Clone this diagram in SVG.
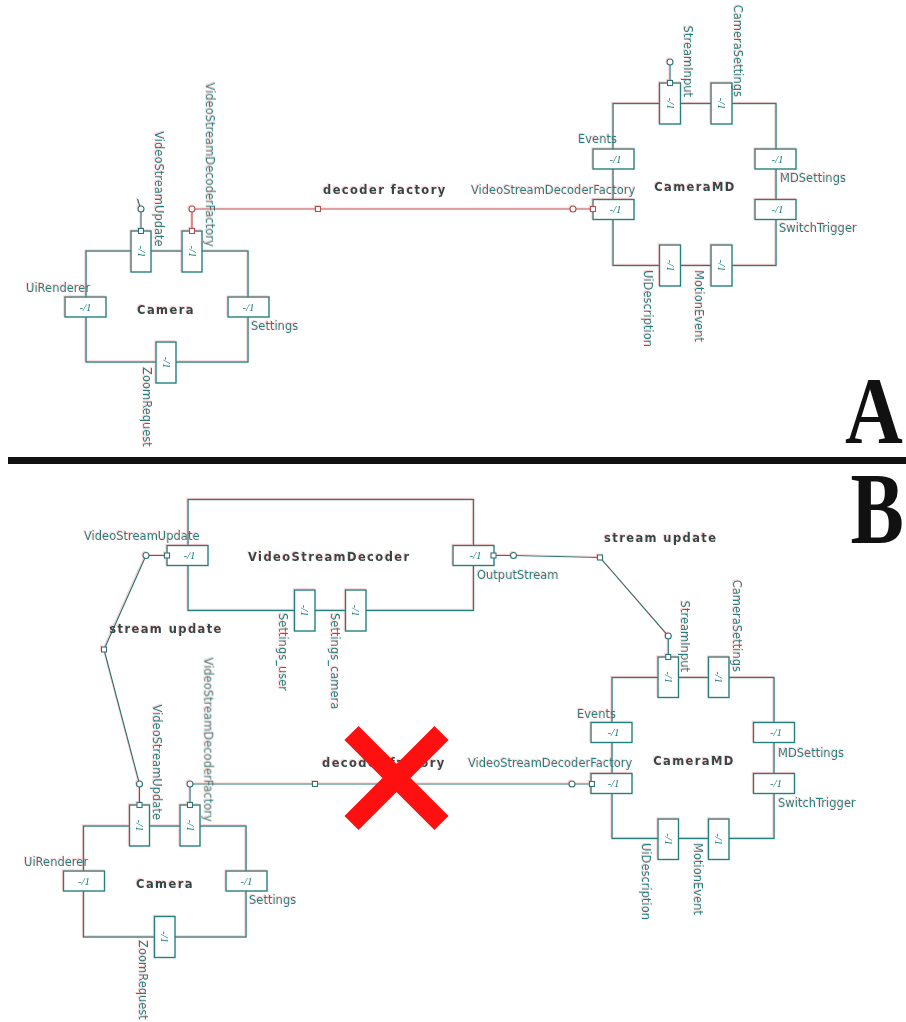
<svg xmlns="http://www.w3.org/2000/svg" width="906" height="1022" viewBox="0 0 906 1022">
<defs>
<style>
.box{fill:none;stroke:#21807f;stroke-width:1.4}
.port{fill:#fff;stroke:#21807f;stroke-width:1.4}
.lbl{font-family:"DejaVu Sans",sans-serif;font-size:11.5px;fill:#21807f}
.end{text-anchor:end}
.title{font-family:"DejaVu Sans",sans-serif;font-size:11.5px;font-weight:bold;letter-spacing:1.4px;fill:#2e4848}
.mid{text-anchor:middle}
.mult{font-family:"Liberation Serif",serif;font-style:italic;font-size:11px;fill:#21807f;text-anchor:middle}
.conn{fill:none;stroke:#2a7474;stroke-width:1.2}
.connA{fill:none;stroke:#c04a4a;stroke-width:1.2}
.mk{fill:#fff;stroke:#2a7474;stroke-width:1.1}
.mkA{fill:#fff;stroke:#b05050;stroke-width:1.1}
.big{font-family:"Liberation Serif",serif;font-weight:bold;font-size:80px;fill:#111}
</style>
<filter id="fr" filterUnits="userSpaceOnUse" x="0" y="0" width="906" height="1022">
<feColorMatrix in="SourceAlpha" type="matrix" values="0 0 0 0 0.92  0 0 0 0 0.35  0 0 0 0 0.35  0 0 0 0.5 0" result="r"/>
<feOffset in="r" dx="-1" dy="-0.7" result="ro"/>
<feMerge><feMergeNode in="ro"/><feMergeNode in="SourceGraphic"/></feMerge>
</filter>
</defs>
<rect width="906" height="1022" fill="#fff"/>
<g filter="url(#fr)">
<!-- ===== Section A ===== -->
<g id="cameraA">
<rect class="box" x="86" y="251" width="162" height="111"/>
<rect class="port" x="131" y="231" width="20" height="41"/>
<rect class="port" x="182" y="231" width="20" height="41"/>
<rect class="port" x="65" y="297" width="41" height="20"/>
<rect class="port" x="228" y="297" width="41" height="20"/>
<rect class="port" x="156" y="342" width="20" height="41"/>
<text class="mult" transform="translate(137.5,251.5) rotate(90)">-/1</text>
<text class="mult" transform="translate(188.5,251.5) rotate(90)">-/1</text>
<text class="mult" x="85.5" y="310.5">-/1</text>
<text class="mult" x="248.5" y="310.5">-/1</text>
<text class="mult" transform="translate(162.5,362.5) rotate(90)">-/1</text>
<text class="title mid" x="166" y="313.5">Camera</text>
<text class="lbl" x="26" y="292">UiRenderer</text>
<text class="lbl" x="251" y="330">Settings</text>
<text class="lbl" transform="translate(142.7,367) rotate(90)">ZoomRequest</text>
<text class="lbl end" transform="translate(155.3,246.7) rotate(90)">VideoStreamUpdate</text>
<text class="lbl end" transform="translate(206,246.7) rotate(90)">VideoStreamDecoderFactory</text>
</g>
<g id="cameraMDA">
<rect class="box" x="613" y="103.5" width="163" height="162"/>
<rect class="port" x="659.5" y="83" width="21" height="41"/>
<rect class="port" x="711" y="83" width="21" height="41"/>
<rect class="port" x="593" y="149" width="41" height="20"/>
<rect class="port" x="593" y="199.5" width="41" height="20"/>
<rect class="port" x="755" y="149" width="41" height="20"/>
<rect class="port" x="755" y="199.5" width="41" height="20"/>
<rect class="port" x="659.5" y="245" width="21" height="41"/>
<rect class="port" x="711" y="245" width="21" height="41"/>
<text class="mult" transform="translate(666.5,103.5) rotate(90)">-/1</text>
<text class="mult" transform="translate(718,103.5) rotate(90)">-/1</text>
<text class="mult" x="615.5" y="162.5">-/1</text>
<text class="mult" x="615.5" y="213">-/1</text>
<text class="mult" x="777.5" y="162.5">-/1</text>
<text class="mult" x="777.5" y="213">-/1</text>
<text class="mult" transform="translate(666.5,265.5) rotate(90)">-/1</text>
<text class="mult" transform="translate(718,265.5) rotate(90)">-/1</text>
<text class="title mid" x="695" y="190.5">CameraMD</text>
<text class="lbl" x="578" y="143">Events</text>
<text class="lbl" x="780" y="182">MDSettings</text>
<text class="lbl" x="779" y="232">SwitchTrigger</text>
<text class="lbl" x="471" y="194">VideoStreamDecoderFactory</text>
<text class="lbl end" transform="translate(683.7,97) rotate(90)">StreamInput</text>
<text class="lbl end" transform="translate(734.3,97) rotate(90)">CameraSettings</text>
<text class="lbl" transform="translate(644.3,270) rotate(90)">UiDescription</text>
<text class="lbl" transform="translate(695.3,270) rotate(90)">MotionEvent</text>
</g>
<!-- ===== Section B ===== -->
<g id="videoStreamDecoderB">
<rect class="box" x="188" y="499.5" width="285.5" height="111"/>
<rect class="port" x="167" y="545.5" width="41" height="20"/>
<rect class="port" x="453" y="545.5" width="41" height="20"/>
<rect class="port" x="294.5" y="590" width="20.5" height="41"/>
<rect class="port" x="345.5" y="590" width="20.5" height="41"/>
<text class="mult" x="189.5" y="559">-/1</text>
<text class="mult" x="475.5" y="559">-/1</text>
<text class="mult" transform="translate(301.3,610.5) rotate(90)">-/1</text>
<text class="mult" transform="translate(352.3,610.5) rotate(90)">-/1</text>
<text class="title" x="248" y="561">VideoStreamDecoder</text>
<text class="lbl" x="84" y="540">VideoStreamUpdate</text>
<text class="lbl" x="477" y="579">OutputStream</text>
<text class="lbl" transform="translate(279.3,613) rotate(90)">Settings_user</text>
<text class="lbl" transform="translate(331,613) rotate(90)">Settings_camera</text>
</g>
<g id="cameraB">
<rect class="box" x="83.5" y="826" width="162.5" height="111"/>
<rect class="port" x="129.5" y="805" width="20" height="41"/>
<rect class="port" x="180" y="805" width="20" height="41"/>
<rect class="port" x="63.5" y="871" width="41" height="20"/>
<rect class="port" x="226" y="871" width="41" height="20"/>
<rect class="port" x="154.5" y="916.5" width="20.5" height="41"/>
<text class="mult" transform="translate(136,825.5) rotate(90)">-/1</text>
<text class="mult" transform="translate(186.5,825.5) rotate(90)">-/1</text>
<text class="mult" x="84" y="884.5">-/1</text>
<text class="mult" x="246.5" y="884.5">-/1</text>
<text class="mult" transform="translate(161.3,937) rotate(90)">-/1</text>
<text class="title mid" x="165" y="887.5">Camera</text>
<text class="lbl" x="24" y="866">UiRenderer</text>
<text class="lbl" x="249" y="904">Settings</text>
<text class="lbl" transform="translate(139.3,940) rotate(90)">ZoomRequest</text>
<text class="lbl end" transform="translate(153.3,820) rotate(90)">VideoStreamUpdate</text>
<text class="lbl end" transform="translate(204.3,821.7) rotate(90)">VideoStreamDecoderFactory</text>
</g>
<g id="cameraMDB">
<rect class="box" x="612" y="677.5" width="162" height="161"/>
<rect class="port" x="658" y="657" width="20.5" height="40.5"/>
<rect class="port" x="708.5" y="657" width="20.5" height="40.5"/>
<rect class="port" x="591" y="722.5" width="41" height="20"/>
<rect class="port" x="591" y="773.5" width="41" height="20"/>
<rect class="port" x="753.5" y="722.5" width="41" height="20"/>
<rect class="port" x="753.5" y="773.5" width="41" height="20"/>
<rect class="port" x="658" y="819" width="20.5" height="40.5"/>
<rect class="port" x="708.5" y="819" width="20.5" height="40.5"/>
<text class="mult" transform="translate(664.8,677.25) rotate(90)">-/1</text>
<text class="mult" transform="translate(715.3,677.25) rotate(90)">-/1</text>
<text class="mult" x="613.5" y="736">-/1</text>
<text class="mult" x="613.5" y="787">-/1</text>
<text class="mult" x="776" y="736">-/1</text>
<text class="mult" x="776" y="787">-/1</text>
<text class="mult" transform="translate(664.8,839.25) rotate(90)">-/1</text>
<text class="mult" transform="translate(715.3,839.25) rotate(90)">-/1</text>
<text class="title mid" x="694" y="764.5">CameraMD</text>
<text class="lbl" x="577" y="718">Events</text>
<text class="lbl" x="778" y="757">MDSettings</text>
<text class="lbl" x="778" y="807">SwitchTrigger</text>
<text class="lbl" x="468" y="767">VideoStreamDecoderFactory</text>
<text class="lbl end" transform="translate(681,672) rotate(90)">StreamInput</text>
<text class="lbl end" transform="translate(732.7,672) rotate(90)">CameraSettings</text>
<text class="lbl" transform="translate(642,843) rotate(90)">UiDescription</text>
<text class="lbl" transform="translate(693.7,843) rotate(90)">MotionEvent</text>
</g>
<!-- ===== Connectors ===== -->
<g id="connectors">
<!-- A -->
<path class="conn" d="M141,231 V209 M139.8,206.3 L137.5,199"/>
<path class="connA" d="M192,231 V209 H593"/>
<path class="conn" d="M670,83 V62"/>
<!-- B -->
<path class="conn" d="M167,555.5 H146 L104,649.5 L139.5,784 V805"/>
<path class="conn" d="M493.5,555.5 H513.5 L600,557.5 L668.25,636 V657"/>
<path class="conn" d="M190,805 V784 H592"/>
<!-- markers A -->
<circle class="mk" cx="141" cy="209" r="3"/>
<rect class="mk" x="138.5" y="228.5" width="5" height="5"/>
<circle class="mkA" cx="192" cy="209" r="3"/>
<rect class="mkA" x="189.5" y="228.5" width="5" height="5"/>
<rect class="mkA" x="315.5" y="206.5" width="5" height="5"/>
<circle class="mkA" cx="573" cy="209" r="3"/>
<rect class="mkA" x="590.5" y="206.5" width="5" height="5"/>
<circle class="mk" cx="670" cy="62" r="3"/>
<rect class="mk" x="667.5" y="80.5" width="5" height="5"/>
<!-- markers B -->
<rect class="mk" x="164.5" y="553" width="5" height="5"/>
<circle class="mk" cx="146" cy="555.5" r="3"/>
<rect class="mk" x="101.5" y="647" width="5" height="5"/>
<circle class="mk" cx="139.5" cy="784" r="3"/>
<rect class="mk" x="137" y="802.5" width="5" height="5"/>
<circle class="mk" cx="190" cy="784" r="3"/>
<rect class="mk" x="187.5" y="802.5" width="5" height="5"/>
<rect class="mk" x="312.5" y="781.5" width="5" height="5"/>
<circle class="mk" cx="572" cy="784" r="3"/>
<rect class="mk" x="589.5" y="781.5" width="5" height="5"/>
<rect class="mk" x="491" y="553" width="5" height="5"/>
<circle class="mk" cx="513.5" cy="555.5" r="3"/>
<rect class="mk" x="597.5" y="555" width="5" height="5"/>
<circle class="mk" cx="668.25" cy="636" r="3"/>
<rect class="mk" x="665.75" y="654.5" width="5" height="5"/>
<!-- connector labels -->
<text class="title" x="323" y="194">decoder factory</text>
<text class="title" x="322" y="767">decoder factory</text>
<text class="title" x="109.3" y="633">stream update</text>
<text class="title" x="604" y="542">stream update</text>
</g>
</g>
<!-- red cross -->
<g id="cross">
<path d="M351.5,733 L441.5,823 M441.5,733 L351.5,823" stroke="#ff1010" stroke-width="20" fill="none"/>
</g>
<!-- section divider and letters -->
<g id="divider">
<rect x="8" y="457" width="898" height="7" fill="#111"/>
<text class="big" transform="translate(845,443) scale(1,1.19)">A</text>
<text class="big" transform="translate(850.5,543.3) scale(1,1.28)">B</text>
</g>
</svg>
